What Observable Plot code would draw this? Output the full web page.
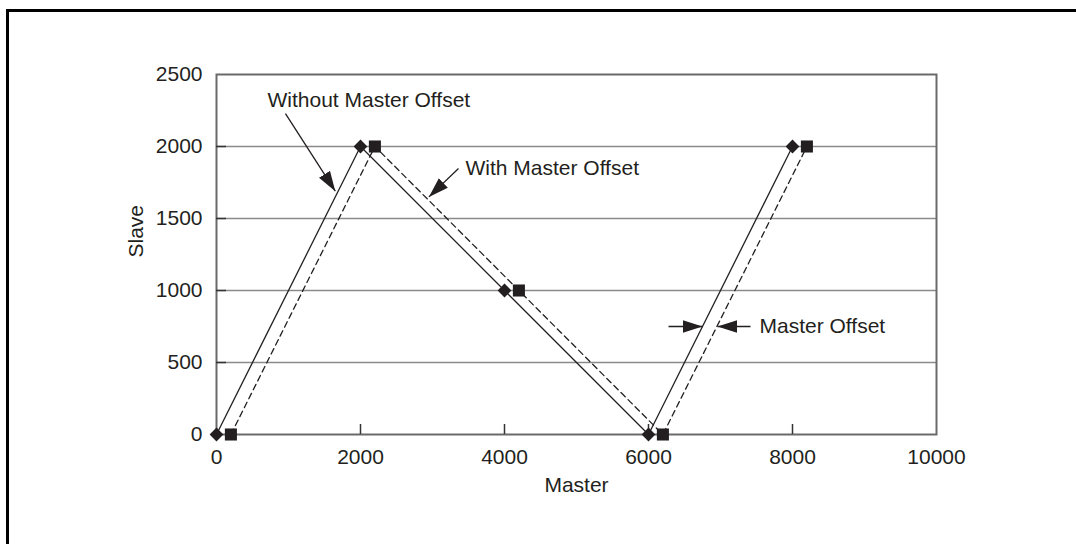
<!DOCTYPE html>
<html>
<head>
<meta charset="utf-8">
<script src="https://cdn.jsdelivr.net/npm/d3@7"></script>
<script src="https://cdn.jsdelivr.net/npm/@observablehq/plot@0.6"></script>
<style>
  html, body { margin: 0; padding: 0; background: #fff; overflow: hidden; width: 1076px; height: 544px; }
  #wrap { position: relative; width: 1076px; height: 544px; overflow: hidden; }
  #wrap svg { display: block; position: absolute; left: 0; top: 0; }
  .edge { position: absolute; background: #000; pointer-events: none; }
  #edgeLeft { left: 6px; top: 9px; width: 3px; height: 600px; }
  #edgeTop { left: 6px; top: 9px; width: 1080px; height: 3px; }
</style>
</head>
<body>
<div id="wrap"><div class="edge" id="edgeLeft"></div><div class="edge" id="edgeTop"></div></div>
<script>
// Data
const masterWithout = [0, 2000, 4000, 6000, 8000];
const masterWith = [200, 2200, 4200, 6200, 8200];
const slave = [0, 2000, 1000, 0, 2000];
const xTicks = [0, 2000, 4000, 6000, 8000, 10000];
const yTicks = [0, 500, 1000, 1500, 2000, 2500];

// Annotations (data coordinates)
const labelText = ["Without Master Offset", "With Master Offset", "Master Offset"];
const labelX = [708, 3458, 7542];
const labelY = [2319, 1847, 750];
const arrowX1 = [958, 3361, 6278, 7417];
const arrowY1 = [2229, 1847, 750, 750];
const arrowX2 = [1650, 2950, 6750, 6958];
const arrowY2 = [1690, 1650, 750, 750];

const without = masterWithout.map((m, i) => ({master: m, slave: slave[i]}));
const withOff = masterWith.map((m, i) => ({master: m, slave: slave[i]}));
const labels = labelText.map((t, i) => ({text: t, x: labelX[i], y: labelY[i]}));
const arrows = arrowX1.map((x, i) => ({x1: x, y1: arrowY1[i], x2: arrowX2[i], y2: arrowY2[i]}));

const ink = "#231f20";

function filledArrow(color, context) {
  const ns = "http://www.w3.org/2000/svg";
  const doc = (context && context.document) || document;
  const m = doc.createElementNS(ns, "marker");
  m.setAttribute("viewBox", "-20 -7 20 14");
  m.setAttribute("markerWidth", 20);
  m.setAttribute("markerHeight", 14);
  m.setAttribute("markerUnits", "userSpaceOnUse");
  m.setAttribute("orient", "auto");
  m.setAttribute("refX", 0);
  m.setAttribute("refY", 0);
  const p = doc.createElementNS(ns, "path");
  p.setAttribute("d", "M-20,-6.5L0,0L-20,6.5Z");
  p.setAttribute("fill", color);
  p.setAttribute("stroke", "none");
  m.appendChild(p);
  return m;
}

const chart = Plot.plot({
  width: 1076,
  height: 544,
  marginLeft: 216,
  marginRight: 140,
  marginTop: 74,
  marginBottom: 110,
  style: {fontFamily: "'Liberation Sans', Arial, Helvetica, sans-serif", fontSize: "21px", color: ink, background: "transparent"},
  x: {domain: [0, 10000]},
  y: {domain: [0, 2500]},
  marks: [
    Plot.ruleY(yTicks.slice(1, -1), {stroke: "#8a8a8a", strokeWidth: 1.5}),
    Plot.frame({stroke: "#6a6a6a", strokeWidth: 2}),
    // inward tick marks
    Plot.tickY(yTicks.slice(1, -1), {y: d => d, insetRight: 710, stroke: "#333", strokeWidth: 1.5}),
    Plot.tickX(xTicks.slice(1, -1), {x: d => d, insetTop: 350, stroke: "#333", strokeWidth: 1.5}),
    Plot.axisY({ticks: yTicks, tickSize: 0, tickPadding: 14, tickFormat: d => String(d), label: null}),
    Plot.axisX({ticks: xTicks, tickSize: 0, tickPadding: 15, tickFormat: d => String(d), label: null}),
    Plot.text(["Master"], {frameAnchor: "bottom", dy: 51, lineAnchor: "middle", fill: ink, fontSize: 21}),
    Plot.text(["Slave"], {frameAnchor: "left", dx: -80, dy: 3, rotate: -90, fill: ink, fontSize: 21}),
    Plot.line(without, {x: "master", y: "slave", stroke: ink, strokeWidth: 1.3}),
    Plot.line(withOff, {x: "master", y: "slave", stroke: ink, strokeWidth: 1.3, strokeDasharray: "6,4"}),
    Plot.dot(without, {x: "master", y: "slave", symbol: "diamond2", r: 6.2, fill: ink, stroke: "none"}),
    Plot.dot(withOff, {x: "master", y: "slave", symbol: "square", r: 6.8, fill: ink, stroke: "none"}),
    Plot.link(arrows, {x1: "x1", y1: "y1", x2: "x2", y2: "y2", stroke: ink, strokeWidth: 1.3, markerEnd: filledArrow}),
    Plot.text(labels, {x: "x", y: "y", text: "text", textAnchor: "start", lineAnchor: "middle", fill: ink, fontSize: 21})
  ]
});
document.getElementById("wrap").prepend(chart);
</script>
</body>
</html>
